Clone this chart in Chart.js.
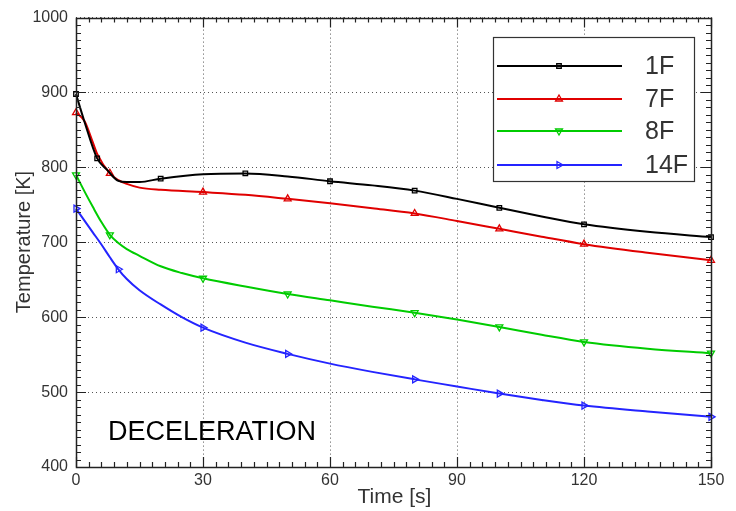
<!DOCTYPE html>
<html>
<head>
<meta charset="utf-8">
<script src="https://cdn.jsdelivr.net/npm/chart.js@4/dist/chart.umd.min.js"></script>
<style>
html,body{margin:0;padding:0;background:#fff;}
canvas{display:block;}
</style>
</head>
<body>
<canvas id="c" width="736" height="511"></canvas>
<script>
// ---- data ----
const seriesNames = ["1F", "7F", "8F", "14F"];

const time1F = [0, 2, 5, 7.3, 10, 12, 15, 20, 30, 40, 50, 60, 70, 80, 90, 100, 110, 120, 135, 150];
const temp1F = [898, 861, 812, 797, 782, 780.5, 780.5, 785, 791, 792, 788, 781.5, 776, 769, 758, 746, 734.5, 724, 714, 707];
const mark1F = [0, 5, 20, 40, 60, 80, 100, 120, 150];

const time7F = [0, 2, 4, 5, 8, 10, 12, 15, 20, 30, 40, 50, 60, 70, 80, 90, 100, 110, 120, 135, 150];
const temp7F = [873, 862, 833, 818, 792, 783, 778, 773, 770, 767, 763.5, 758, 752, 745.5, 738.5, 728.5, 718, 707.5, 697.5, 686, 676];
const mark7F = [0, 8, 30, 50, 80, 100, 120, 150];

const time8F = [0, 2, 4, 6, 8, 10, 12, 15, 20, 25, 30, 40, 50, 60, 70, 80, 90, 100, 110, 120, 135, 150];
const temp8F = [790, 768, 747, 727, 710, 699, 691, 682, 668, 659, 652, 641, 631, 622.5, 614, 606, 597, 587, 576.5, 567, 558, 552];
const mark8F = [0, 8, 30, 50, 80, 100, 120, 150];

const time14F = [0, 2, 4, 6, 8, 10, 12, 15, 20, 25, 30, 40, 50, 60, 70, 80, 90, 100, 110, 120, 135, 150];
const temp14F = [745, 729, 713, 697, 680, 664, 651, 636, 617, 600, 586, 566, 551, 538, 527, 517, 507.5, 498, 489.5, 482, 474, 467];
const mark14F = [0, 10, 30, 50, 80, 100, 120, 150];

const xTickValues = [0, 30, 60, 90, 120, 150];
const yTickValues = [400, 500, 600, 700, 800, 900, 1000];
const xAxisTitle = "Time [s]";
const yAxisTitle = "Temperature [K]";
const annotationText = "DECELERATION";

// ---- styles ----
const colors = ["#000000", "#e00000", "#00cc00", "#2424ff"];
const styles = [
  {pointStyle: "rect", rotation: 0, radius: 3.2},
  {pointStyle: "triangle", rotation: 0, radius: 4},
  {pointStyle: "triangle", rotation: 180, radius: 4},
  {pointStyle: "triangle", rotation: 90, radius: 4}
];
const FONT = "'Liberation Sans', Arial, sans-serif";

const times = [time1F, time7F, time8F, time14F];
const temps = [temp1F, temp7F, temp8F, temp14F];
const marks = [mark1F, mark7F, mark8F, mark14F];

const datasets = seriesNames.map((name, i) => ({
  label: name,
  data: times[i].map((t, k) => ({x: t, y: temps[i][k]})),
  borderColor: colors[i],
  backgroundColor: colors[i],
  borderWidth: 2,
  cubicInterpolationMode: "monotone",
  pointStyle: styles[i].pointStyle,
  pointRotation: styles[i].rotation,
  pointRadius: times[i].map(t => marks[i].includes(t) ? styles[i].radius : 0),
  pointHoverRadius: 0,
  pointBorderWidth: 1.3,
  pointBorderColor: colors[i],
  pointBackgroundColor: "rgba(0,0,0,0)",
  clip: false
}));

const framePlugin = {
  id: "frame",
  afterDraw(chart) {
    const ctx = chart.ctx;
    const a = chart.chartArea;
    const xs = chart.scales.x, ys = chart.scales.y;
    ctx.save();
    // border
    ctx.strokeStyle = "#222";
    ctx.lineWidth = 1.5;
    ctx.strokeRect(Math.round(a.left) + 0.5, Math.round(a.top) + 0.5, Math.round(a.right - a.left), Math.round(a.bottom - a.top));
    // ticks
    ctx.lineWidth = 1.2;
    ctx.beginPath();
    for (let v = 0; v <= 150; v += 3) {
      const px = Math.round(xs.getPixelForValue(v)) + 0.5;
      const len = (v % 30 === 0) ? 10 : 5;
      ctx.moveTo(px, a.bottom); ctx.lineTo(px, a.bottom - len);
      ctx.moveTo(px, a.top); ctx.lineTo(px, a.top + len);
    }
    for (let v = 400; v <= 1000; v += 10) {
      const py = Math.round(ys.getPixelForValue(v)) + 0.5;
      const len = (v % 100 === 0) ? 10 : 5;
      ctx.moveTo(a.left, py); ctx.lineTo(a.left + len, py);
      ctx.moveTo(a.right, py); ctx.lineTo(a.right - len, py);
    }
    ctx.stroke();

    // axis titles
    ctx.fillStyle = "#333";
    ctx.font = "21px " + FONT;
    ctx.textAlign = "center";
    ctx.textBaseline = "middle";
    ctx.fillText(xAxisTitle, (a.left + a.right) / 2 + 1, 497);
    ctx.save();
    ctx.translate(24, 242);
    ctx.rotate(-Math.PI / 2);
    ctx.font = "20px " + FONT;
    ctx.fillText(yAxisTitle, 0, 0);
    ctx.restore();

    // annotation
    ctx.fillStyle = "#000";
    ctx.font = "27px " + FONT;
    ctx.textAlign = "left";
    ctx.fillText(annotationText, 108, 433);

    // legend
    const bx = 493.5, by = 37.5, bw = 201, bh = 144;
    ctx.fillStyle = "#fff";
    ctx.fillRect(bx, by, bw, bh);
    ctx.strokeStyle = "#333";
    ctx.lineWidth = 1.2;
    ctx.strokeRect(bx, by, bw, bh);
    const rows = [66, 99, 131, 165];
    chart.data.datasets.forEach((ds, i) => {
      const y = rows[i];
      ctx.strokeStyle = colors[i];
      ctx.lineWidth = 2;
      ctx.beginPath();
      ctx.moveTo(497, y); ctx.lineTo(622, y);
      ctx.stroke();
      ctx.lineWidth = 1.3;
      ctx.fillStyle = "rgba(0,0,0,0)";
      Chart.helpers.drawPoint(ctx, {pointStyle: styles[i].pointStyle, rotation: styles[i].rotation, radius: styles[i].radius, borderWidth: 1.3}, 559, y);
      ctx.fillStyle = "#333";
      ctx.font = "25px " + FONT;
      ctx.textAlign = "left";
      ctx.textBaseline = "middle";
      ctx.fillText(ds.label, 645, y + 1);
    });
    ctx.restore();
  }
};

new Chart(document.getElementById("c"), {
  type: "line",
  data: {datasets},
  options: {
    responsive: false,
    animation: false,
    devicePixelRatio: 1,
    layout: {padding: {top: 16, right: 25, left: 0, bottom: 0}},
    plugins: {legend: {display: false}, tooltip: {enabled: false}},
    scales: {
      x: {
        type: "linear",
        min: 0, max: 150,
        afterFit(s) { s.height = 44; },
        afterBuildTicks(s) { s.ticks = xTickValues.map(v => ({value: v})); },
        ticks: {padding: 4, color: "#333", font: {family: FONT, size: 16}, maxRotation: 0, autoSkip: false,
                callback: v => String(v)},
        grid: {color: "#555", lineWidth: 1, drawTicks: false},
        border: {display: false, dash: [1, 3]}
      },
      y: {
        type: "linear",
        min: 400, max: 1000,
        afterFit(s) { s.width = 76; },
        afterBuildTicks(s) { s.ticks = yTickValues.map(v => ({value: v})); },
        ticks: {padding: 8, color: "#333", font: {family: FONT, size: 16}, autoSkip: false,
                callback: v => String(v)},
        grid: {color: "#555", lineWidth: 1, drawTicks: false},
        border: {display: false, dash: [1, 3]}
      }
    }
  },
  plugins: [framePlugin]
});
</script>
</body>
</html>
